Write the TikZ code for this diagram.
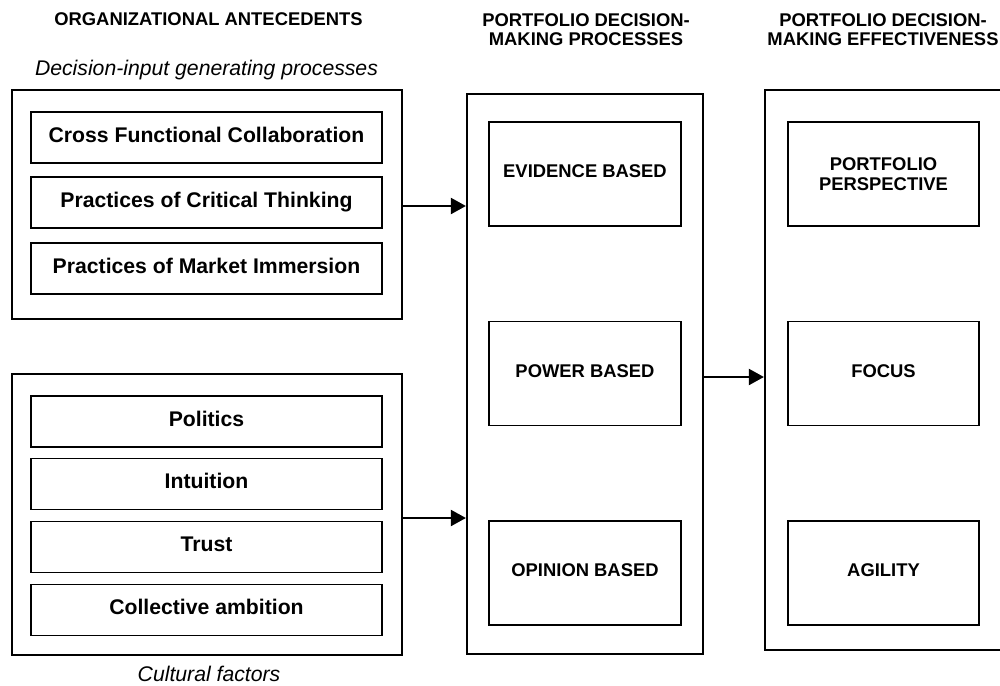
\documentclass[tikz,border=0pt]{standalone}
\usepackage{fontspec}
\setmainfont{Liberation Sans}
\usetikzlibrary{arrows.meta}

\tikzset{
  outerbox/.style={draw=black, line width=2.2pt, inner sep=0pt, minimum width=#1},
  itembox/.style={draw=black, line width=1.9pt, inner sep=0pt, minimum width=351pt, minimum height=51pt,
    font=\fontsize{21.2}{24}\selectfont\bfseries, text height=15pt, text depth=6pt},
  stagebox/.style={draw=black, line width=1.9pt, inner sep=0pt, minimum height=104pt,
    font=\fontsize{18.4}{19.5}\selectfont\bfseries, align=center},
  capsline/.style={text height=13pt, text depth=6pt},
  heading/.style={inner sep=0pt, font=\fontsize{18.4}{19.3}\selectfont\bfseries, align=center},
  caption/.style={inner sep=0pt, font=\fontsize{21.2}{24}\selectfont\itshape},
  flow/.style={line width=2pt, -{Triangle[length=15pt, width=16pt]}}
}

\begin{document}
\begin{tikzpicture}[x=1pt, y=-1pt]
  \useasboundingbox (0,0) rectangle (1000,685);
  \clip (0,0) rectangle (1000,685);
  \fill[white] (0,0) rectangle (1000,685);

  % column headings
  \node[heading, anchor=base] (hAnte) at (208.5,26) {ORGANIZATIONAL ANTECEDENTS};
  \node[heading, anchor=north] (hProc) at (586,13) {PORTFOLIO DECISION-\\MAKING PROCESSES};
  \node[heading, anchor=north] (hEff) at (883,13) {PORTFOLIO DECISION-\\MAKING EFFECTIVENESS};

  % antecedents: decision-input generating processes
  \node[caption, anchor=base] (cInput) at (206.5,75) {Decision-input generating processes};
  \node[outerbox=390pt, minimum height=229pt] (inputs) at (207,204.5) {};
  \node[itembox] (cross) at (206.5,137.5) {Cross Functional Collaboration};
  \node[itembox] (critical) at (206.5,202.5) {Practices of Critical Thinking};
  \node[itembox] (market) at (206.5,268.5) {Practices of Market Immersion};

  % antecedents: cultural factors
  \node[outerbox=390pt, minimum height=281pt] (culture) at (207,514.5) {};
  \node[itembox] (politics) at (206.5,421.5) {Politics};
  \node[itembox] (intuition) at (206.5,484) {Intuition};
  \node[itembox] (trust) at (206.5,547) {Trust};
  \node[itembox] (ambition) at (206.5,610) {Collective ambition};
  \node[caption, anchor=base] (cCulture) at (209,681) {Cultural factors};

  % decision-making processes
  \node[outerbox=236pt, minimum height=560pt] (process) at (585,374) {};
  \node[stagebox, capsline, minimum width=192pt] (evidence) at (585,174) {EVIDENCE BASED};
  \node[stagebox, capsline, minimum width=192pt] (power) at (585,373.5) {POWER BASED};
  \node[stagebox, capsline, minimum width=192pt] (opinion) at (585,573) {OPINION BASED};

  % decision-making effectiveness
  \node[outerbox=238pt, minimum height=560pt] (effect) at (884,370) {};
  \node[stagebox, minimum width=191pt] (perspective) at (883.5,174) {PORTFOLIO\\PERSPECTIVE};
  \node[stagebox, capsline, minimum width=191pt] (focus) at (883.5,373.5) {FOCUS};
  \node[stagebox, capsline, minimum width=191pt] (agility) at (883.5,573) {AGILITY};

  % connectors
  \draw[flow] ([yshift=-1.5pt]inputs.east) -- ([yshift=-1.5pt]process.west |- inputs.east);
  \draw[flow] ([yshift=-3.5pt]culture.east) -- ([yshift=-3.5pt]process.west |- culture.east);
  \draw[flow] ([yshift=-3pt]process.east) -- ([yshift=-3pt]effect.west |- process.east);
\end{tikzpicture}
\end{document}
